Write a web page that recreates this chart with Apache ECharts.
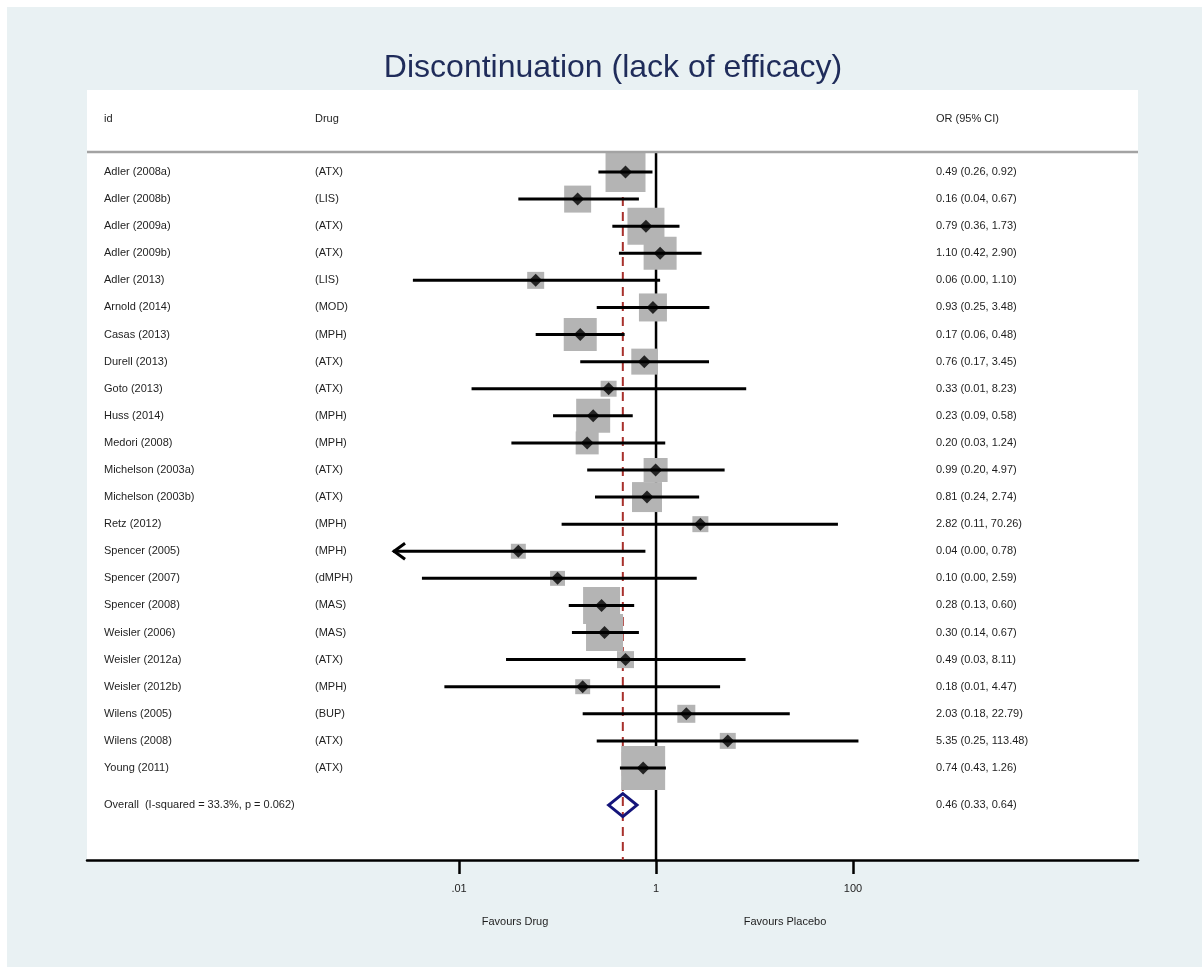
<!DOCTYPE html>
<html>
<head>
<meta charset="utf-8">
<title>Discontinuation (lack of efficacy)</title>
<script src="https://cdn.jsdelivr.net/npm/echarts@6/dist/echarts.min.js"></script>
<style>
  html, body { margin: 0; padding: 0; background: #ffffff; }
  #frame { position: absolute; left: 7px; top: 7px; width: 1195px; height: 960px; background: #e9f1f3; }
  #chart { position: absolute; left: 0; top: 0; width: 1202px; height: 967px; }
</style>
</head>
<body>
<div id="frame"></div>
<div id="chart"></div>
<script>
// ---- Study data (odds ratio, 95% CI, meta-analysis weight %) ----
const studies = [
  'Adler (2008a)', 'Adler (2008b)', 'Adler (2009a)', 'Adler (2009b)', 'Adler (2013)',
  'Arnold (2014)', 'Casas (2013)', 'Durell (2013)', 'Goto (2013)', 'Huss (2014)',
  'Medori (2008)', 'Michelson (2003a)', 'Michelson (2003b)', 'Retz (2012)', 'Spencer (2005)',
  'Spencer (2007)', 'Spencer (2008)', 'Weisler (2006)', 'Weisler (2012a)', 'Weisler (2012b)',
  'Wilens (2005)', 'Wilens (2008)', 'Young (2011)'
];
const drugs = [
  '(ATX)', '(LIS)', '(ATX)', '(ATX)', '(LIS)',
  '(MOD)', '(MPH)', '(ATX)', '(ATX)', '(MPH)',
  '(MPH)', '(ATX)', '(ATX)', '(MPH)', '(MPH)',
  '(dMPH)', '(MAS)', '(MAS)', '(ATX)', '(MPH)',
  '(BUP)', '(ATX)', '(ATX)'
];
const oddsRatio = [
  0.49, 0.16, 0.79, 1.10, 0.06,
  0.93, 0.17, 0.76, 0.33, 0.23,
  0.20, 0.99, 0.81, 2.82, 0.04,
  0.10, 0.28, 0.30, 0.49, 0.18,
  2.03, 5.35, 0.74
];
const ciLower = [
  0.26, 0.04, 0.36, 0.42, 0.0034,
  0.25, 0.06, 0.17, 0.0134, 0.09,
  0.034, 0.20, 0.24, 0.11, 0.0015,
  0.0042, 0.13, 0.14, 0.03, 0.0071,
  0.18, 0.25, 0.43
];
const ciUpper = [
  0.92, 0.67, 1.73, 2.90, 1.10,
  3.48, 0.48, 3.45, 8.23, 0.58,
  1.24, 4.97, 2.74, 70.26, 0.78,
  2.59, 0.60, 0.67, 8.11, 4.47,
  22.79, 113.48, 1.26
];
const weightPct = [
  9.13, 4.16, 7.82, 6.22, 1.65,
  4.48, 6.22, 3.86, 1.46, 6.60,
  3.02, 3.29, 5.14, 1.46, 1.28,
  1.28, 7.82, 7.82, 1.65, 1.28,
  1.85, 1.46, 11.05
];
// Pooled estimate: OR, lower, upper
const overallEstimate = [0.46, 0.33, 0.64];
const overallLabel = 'Overall  (I-squared = 33.3%, p = 0.062)';
const headerLabels = ['id', 'Drug', 'OR (95% CI)'];
const tickValues = [0.01, 1, 100];
const tickLabels = ['.01', '1', '100'];
const favourLabels = ['Favours Drug', 'Favours Placebo'];
const titleText = 'Discontinuation (lack of efficacy)';

// ---- Layout & style ----
const FONT_FAMILY = '"Liberation Sans", Arial, Helvetica, sans-serif';
const TEXT_FONT = '11px ' + FONT_FAMILY;
const TEXT_COLOR = '#1e1e1e';
const COL_X = { id: 104, drug: 315, or: 936 };
const X_MIN_EXP = -5.777, X_MAX_EXP = 4.893;   // log10 extent of the x axis
const CI_CLIP_EXP = -2.67;                      // CIs beyond this are drawn with an arrow
const Y_MIN = -2.027, Y_MAX = 26.397;           // row extent (row 1 = first study)
const HEADER_ROW = -0.96, HEADER_RULE_ROW = 0.262;
const OVERALL_ROW = studies.length + 1.37;
const SQUARE_SCALE = 13.23;                     // box side = scale * sqrt(weight %)
const fmt = v => v.toFixed(2);

const chart = echarts.init(document.getElementById('chart'), null, { renderer: 'canvas' });

const tableRows = studies.map((s, i) => ({
  id: s, drug: drugs[i],
  or: `${fmt(oddsRatio[i])} (${fmt(ciLower[i])}, ${fmt(ciUpper[i])})`,
  row: i + 1
}));
tableRows.unshift({ id: headerLabels[0], drug: headerLabels[1], or: headerLabels[2], row: HEADER_ROW });
tableRows.push({
  id: overallLabel, drug: '',
  or: `${fmt(overallEstimate[0])} (${fmt(overallEstimate[1])}, ${fmt(overallEstimate[2])})`,
  row: OVERALL_ROW
});

const ciClipLow = Math.pow(10, CI_CLIP_EXP);

const option = {
  animation: false,
  grid: {
    left: 87, right: 64, top: 90, bottom: 107,
    show: true, backgroundColor: '#ffffff', borderWidth: 0
  },
  graphic: [
    {
      type: 'text',
      style: { text: titleText, x: 613, y: 68, font: '32px ' + FONT_FAMILY, fill: '#1f2c5a', align: 'center', verticalAlign: 'middle' }
    },
    {
      type: 'text',
      style: { text: favourLabels[0], x: 515, y: 922, font: TEXT_FONT, fill: TEXT_COLOR, align: 'center', verticalAlign: 'middle' }
    },
    {
      type: 'text',
      style: { text: favourLabels[1], x: 785, y: 922, font: TEXT_FONT, fill: TEXT_COLOR, align: 'center', verticalAlign: 'middle' }
    }
  ],
  xAxis: {
    type: 'log', logBase: 10,
    min: Math.pow(10, X_MIN_EXP), max: Math.pow(10, X_MAX_EXP),
    axisLine: { show: true, onZero: false, lineStyle: { color: '#000', width: 2.5 } },
    axisTick: { show: true, customValues: tickValues, length: 14, lineStyle: { color: '#000', width: 2.5 } },
    axisLabel: {
      show: true, customValues: tickValues, margin: 23,
      fontSize: 11, fontFamily: FONT_FAMILY, color: TEXT_COLOR,
      formatter: v => {
        const k = tickValues.findIndex(t => Math.abs(Math.log10(t) - Math.log10(v)) < 1e-6);
        return k >= 0 ? tickLabels[k] : '';
      }
    },
    splitLine: { show: false }
  },
  yAxis: { type: 'value', inverse: true, min: Y_MIN, max: Y_MAX, show: false },
  series: [
    // Reference lines: null effect (OR = 1) and pooled estimate
    {
      type: 'custom', z: 1,
      data: [[1, 0], [overallEstimate[0], 1]],
      encode: { x: 0 },
      renderItem: (params, api) => {
        const top = api.coord([api.value(0), HEADER_RULE_ROW]);
        const bottom = api.coord([api.value(0), Y_MAX]);
        const pooled = api.value(1) === 1;
        return {
          type: 'line',
          shape: { x1: top[0], y1: top[1], x2: bottom[0], y2: bottom[1] },
          style: pooled
            ? { stroke: '#a8302c', lineWidth: 2, lineDash: [9, 6] }
            : { stroke: '#000', lineWidth: 2.5 }
        };
      }
    },
    // Weight boxes
    {
      type: 'custom', z: 2,
      data: studies.map((_, i) => [oddsRatio[i], i + 1, weightPct[i]]),
      encode: { x: 0, y: 1 },
      renderItem: (params, api) => {
        const c = api.coord([api.value(0), api.value(1)]);
        const s = SQUARE_SCALE * Math.sqrt(api.value(2));
        return {
          type: 'rect',
          shape: { x: c[0] - s / 2, y: c[1] - s / 2, width: s, height: s },
          style: { fill: '#b4b4b4' }
        };
      }
    },
    // Confidence intervals
    {
      type: 'custom', z: 3,
      data: studies.map((_, i) => [ciLower[i], ciUpper[i], i + 1]),
      encode: { x: [0, 1], y: 2 },
      renderItem: (params, api) => {
        const lo = api.value(0), hi = api.value(1), row = api.value(2);
        const clipped = lo < ciClipLow;
        const p0 = api.coord([clipped ? ciClipLow : lo, row]);
        const p1 = api.coord([hi, row]);
        const children = [{
          type: 'line',
          shape: { x1: p0[0], y1: p0[1], x2: p1[0], y2: p1[1] },
          style: { stroke: '#000', lineWidth: 3 }
        }];
        if (clipped) {
          children.push({
            type: 'polyline',
            shape: { points: [[p0[0] + 12, p0[1] - 8], [p0[0] + 1, p0[1]], [p0[0] + 12, p0[1] + 8]] },
            style: { stroke: '#000', lineWidth: 3, fill: null }
          });
        }
        return { type: 'group', children };
      }
    },
    // Point estimates
    {
      type: 'scatter', z: 4,
      data: studies.map((_, i) => [oddsRatio[i], i + 1]),
      symbol: 'diamond', symbolSize: [13, 13],
      itemStyle: { color: '#000' }
    },
    // Pooled estimate diamond
    {
      type: 'custom', z: 5,
      data: [[overallEstimate[0], overallEstimate[1], overallEstimate[2], OVERALL_ROW]],
      encode: { x: [0, 1, 2], y: 3 },
      renderItem: (params, api) => {
        const row = api.value(3);
        const c = api.coord([api.value(0), row]);
        const l = api.coord([api.value(1), row]);
        const r = api.coord([api.value(2), row]);
        const h = 11.5;
        return {
          type: 'polygon',
          shape: { points: [[l[0], c[1]], [c[0], c[1] - h], [r[0], c[1]], [c[0], c[1] + h]] },
          style: { stroke: '#14147a', lineWidth: 3, fill: null, lineJoin: 'miter' }
        };
      }
    },
    // Table text columns and header rule
    {
      type: 'custom', z: 6,
      data: tableRows.map(r => [1, r.row]),
      encode: { x: 0, y: 1 },
      renderItem: (params, api) => {
        const r = tableRows[params.dataIndex];
        const y = api.coord([1, api.value(1)])[1];
        const txt = (text, x) => ({
          type: 'text',
          style: { text, x, y, font: TEXT_FONT, fill: TEXT_COLOR, align: 'left', verticalAlign: 'middle' }
        });
        const children = [txt(r.id, COL_X.id), txt(r.drug, COL_X.drug), txt(r.or, COL_X.or)];
        if (params.dataIndex === 0) {
          const cs = params.coordSys;
          const ry = api.coord([1, HEADER_RULE_ROW])[1];
          children.push({
            type: 'line',
            shape: { x1: cs.x, y1: ry, x2: cs.x + cs.width, y2: ry },
            style: { stroke: '#a3a3a3', lineWidth: 2.5 }
          });
        }
        return { type: 'group', children };
      }
    }
  ]
};

chart.setOption(option);
</script>
</body>
</html>
